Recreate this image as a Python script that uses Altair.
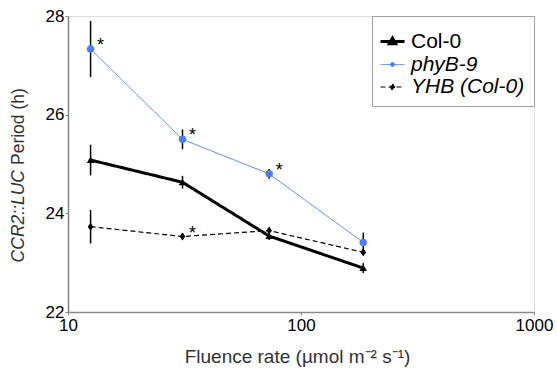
import altair as alt
import pandas as pd

# ---- data ----
fluence = [12.5, 31, 73, 185]
series_names = ["Col-0", "phyB-9", "YHB (Col-0)"]
col0_period = [25.08, 24.63, 23.54, 22.89]
col0_err = [0.31, 0.13, 0.08, 0.10]
phyb_period = [27.33, 25.50, 24.80, 23.41]
phyb_err = [0.57, 0.20, 0.10, 0.20]
yhb_period = [23.73, 23.53, 23.65, 23.21]
yhb_err = [0.34, 0.07, 0.06, 0.06]
col0_sig = [False, False, False, False]
phyb_sig = [True, True, True, False]
yhb_sig = [False, True, False, False]
x_ticks = [10, 100, 1000]
y_ticks = [22, 24, 26, 28]

BLUE = "#4d7ef5"
FONT = "Liberation Sans"
series_colors = ["black", BLUE, "black"]

rows = []
for name, per, err, sig in zip(series_names,
                               [col0_period, phyb_period, yhb_period],
                               [col0_err, phyb_err, yhb_err],
                               [col0_sig, phyb_sig, yhb_sig]):
    for f, p, e, s in zip(fluence, per, err, sig):
        rows.append(dict(series=name, fluence=f, period=p, lo=p - e, hi=p + e,
                         star="*" if s else ""))
df = pd.DataFrame(rows)

TRI = "M0,-0.9L0.95,0.75L-0.95,0.75Z"
CIRC = "M0.95,0A0.95,0.95 0 1 1 -0.95,0A0.95,0.95 0 1 1 0.95,0Z"
DIAMOND = "M0,-1L0.7,0L0,1L-0.7,0Z"
series_shapes = [TRI, CIRC, DIAMOND]
LEG_TRI = "M-1.2,0L1.2,0M0,-0.35L0.32,0.22L-0.32,0.22Z"
LEG_CIRC = "M-1.2,0L1.2,0M0.2,0A0.2,0.2 0 1 1 -0.2,0A0.2,0.2 0 1 1 0.2,0Z"
LEG_DIAM = "M-1.2,0L1.2,0M0,-0.32L0.2,0L0,0.32L-0.2,0Z"

legend = alt.Legend(
    title=" ",
    titleFontSize=5,
    titlePadding=0,
    orient="top-right",
    offset=0,
    padding=9,
    rowPadding=1,
    strokeColor="#a0a0a0",
    fillColor="white",
    symbolSize=400,
    symbolType={"expr": f"datum.value === 'Col-0' ? '{LEG_TRI}' : datum.value === 'phyB-9' ? '{LEG_CIRC}' : '{LEG_DIAM}'"},
    symbolFillColor={"expr": f"datum.value === 'phyB-9' ? '{BLUE}' : 'black'"},
    symbolStrokeColor={"expr": f"datum.value === 'phyB-9' ? '{BLUE}' : 'black'"},
    symbolStrokeWidth={"expr": "datum.value === 'Col-0' ? 2.2 : 1.1"},
    symbolDash={"expr": "datum.value === 'YHB (Col-0)' ? [3, 2] : [1, 0]"},
    symbolOpacity=1,
    labelFontSize=21,
    labelFont=FONT,
    labelColor="black",
    labelOffset=7,
    labelFontStyle={"expr": "datum.value === 'Col-0' ? 'normal' : 'italic'"},
)

x = alt.X("fluence:Q",
          scale=alt.Scale(type="log", domain=[10, 1000]),
          axis=alt.Axis(values=x_ticks, format="d", title="Fluence rate (µmol m⁻² s⁻¹)",
                        titleX=229, titleY=50, titleBaseline="alphabetic", titleAlign="center",
                        titleFontSize=19, titleFontWeight="normal", titleColor="#333",
                        titleFont=FONT, labelFont=FONT, labelFontSize=17, labelColor="black",
                        labelPadding=2, tickSize=3, tickColor="#888", domainColor="#888",
                        domainWidth=1.6, grid=False, labelFlush=False))
y_scale = alt.Scale(domain=[22, 28])
y_axis = alt.Axis(values=y_ticks, title=None, labelFont=FONT, labelFontSize=17, labelColor="black",
                  labelPadding=1, tickSize=3, tickColor="#888", domainColor="#888",
                  domainWidth=1.6, grid=False)
y_period = alt.Y("period:Q", scale=y_scale, axis=y_axis)

base = alt.Chart(df)

errbars = base.mark_rule(color="black", strokeWidth=1.5).encode(
    x=x,
    y=alt.Y("lo:Q", scale=y_scale, axis=y_axis),
    y2="hi:Q",
)

lines = base.mark_line().encode(
    x=x,
    y=y_period,
    color=alt.Color("series:N", scale=alt.Scale(domain=series_names, range=series_colors), legend=legend),
    strokeDash=alt.StrokeDash("series:N", scale=alt.Scale(type="ordinal", domain=series_names, range=[[1, 0], [1, 0], [5, 3]]), legend=None),
    strokeWidth=alt.StrokeWidth("series:N", scale=alt.Scale(type="ordinal", domain=series_names, range=[3, 1.0, 1.2]), legend=None),
    order="fluence:Q",
)

point_layers = []
for name, shp, col in zip(series_names, series_shapes, series_colors):
    point_layers.append(
        base.transform_filter(alt.datum.series == name).mark_point(
            filled=True, opacity=1, size=64, shape=shp, color=col
        ).encode(x=x, y=y_period)
    )

stars = base.transform_filter("datum.star != ''").mark_text(
    fontSize=18, font=FONT, color="black", dx=10, dy=2, baseline="alphabetic", align="center"
).encode(x=x, y=y_period, text="star:N")

ytitle_a = alt.Chart(pd.DataFrame({"t": ["CCR2::LUC"]})).mark_text(
    angle=270, align="right", baseline="alphabetic", fontSize=17.5, font=FONT,
    fontStyle="italic", color="#333"
).encode(text="t:N", x=alt.value(-44), y=alt.value(154))

ytitle_b = alt.Chart(pd.DataFrame({"t": ["Period (h)"]})).mark_text(
    angle=270, align="left", baseline="alphabetic", fontSize=17.5, font=FONT, color="#333"
).encode(text="t:N", x=alt.value(-44), y=alt.value(149))

chart = alt.layer(errbars, lines, *point_layers, stars, ytitle_a, ytitle_b).properties(
    width=466, height=296,
    autosize=alt.AutoSizeParams(type="none"),
    padding={"left": 68, "top": 16, "right": 23, "bottom": 59},
).configure_view(
    stroke="#222", strokeWidth=1.5
).configure(
    font=FONT
)

chart.save("out.html", embed_options={"renderer": "svg", "actions": False})
